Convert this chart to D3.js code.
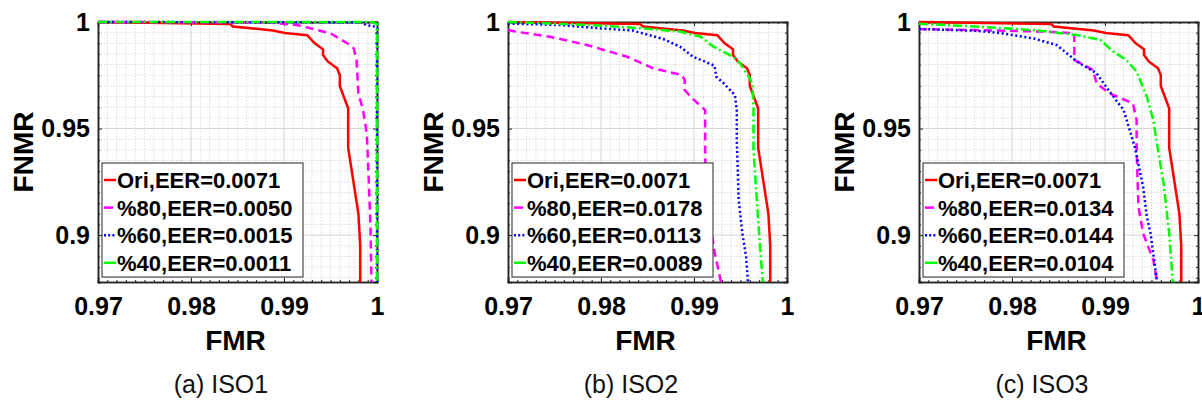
<!DOCTYPE html>
<html>
<head>
<meta charset="utf-8">
<script src="https://cdn.jsdelivr.net/npm/d3@7/dist/d3.min.js"></script>
<style>
  body { margin: 0; background: #fff; }
  svg { display: block; }
  text { font-family: "Liberation Sans", Arial, Helvetica, sans-serif; }
</style>
</head>
<body>
<div id="chart"></div>
<script>
// ROC-style curves (FNMR vs FMR), three panels
const captions = ['(a) ISO1', '(b) ISO2', '(c) ISO3'];
const seriesNames = ['Ori', '%80', '%60', '%40'];
const eerValues = [
    ['0.0071', '0.0050', '0.0015', '0.0011'],
    ['0.0071', '0.0178', '0.0113', '0.0089'],
    ['0.0071', '0.0134', '0.0144', '0.0104']
];
const xTicks = [0.97, 0.98, 0.99, 1];
const yTicks = [0.9, 0.95, 1];

// [FMR, FNMR] points
const oriCurve = [[0.970, 1.000], [0.9842, 0.9991], [0.9845, 0.9979], [0.9888, 0.9960], [0.9901, 0.9948],
    [0.9925, 0.9938], [0.9933, 0.9900], [0.9942, 0.9872], [0.9942, 0.9845], [0.9947, 0.9815], [0.9957, 0.9783],
    [0.9960, 0.9751], [0.9960, 0.9700], [0.9969, 0.9595], [0.9969, 0.9410], [0.9980, 0.9100], [0.9982, 0.8950],
    [0.9982, 0.878]];

const iso1P80 = [[0.970, 1.000], [0.9880, 0.9998], [0.9899, 0.9992], [0.9914, 0.9986], [0.9950, 0.9947],
    [0.9971, 0.9892], [0.9975, 0.9876], [0.9978, 0.9822], [0.9980, 0.9665], [0.9985, 0.9587], [0.9989, 0.9478],
    [0.9991, 0.9274], [0.9993, 0.9039], [0.9994, 0.878]];
const iso1P60 = [[0.970, 1.000], [0.9985, 0.9998], [0.9988, 0.9986], [0.9998, 0.9978], [1.000, 0.9970], [1.000, 0.878]];
const iso1P40 = [[0.970, 1.000], [0.9995, 1.000], [1.000, 0.9990], [1.000, 0.878]];

const iso2P80 = [[0.970, 0.9962], [0.9708, 0.9955], [0.9745, 0.9931], [0.9785, 0.9892], [0.9828, 0.9837],
    [0.9856, 0.9783], [0.9887, 0.9751], [0.9890, 0.9728], [0.9890, 0.9681], [0.9898, 0.9642], [0.9912, 0.9587],
    [0.9912, 0.9370], [0.9914, 0.9150], [0.9922, 0.8923], [0.9929, 0.878]];
const iso2P60 = [[0.970, 0.9993], [0.9755, 0.9986], [0.9800, 0.9970], [0.9834, 0.9960], [0.9867, 0.9920],
    [0.9885, 0.9884], [0.9899, 0.9837], [0.9922, 0.9795], [0.9924, 0.9743], [0.9932, 0.9712], [0.9944, 0.9657],
    [0.9946, 0.9587], [0.9946, 0.9440], [0.9947, 0.9320], [0.9948, 0.9165], [0.9952, 0.9008], [0.9956, 0.8900],
    [0.9958, 0.878]];
const iso2P40 = [[0.970, 1.000], [0.9788, 0.9986], [0.9846, 0.9970], [0.9885, 0.9955], [0.9907, 0.9931],
    [0.9921, 0.9884], [0.9942, 0.9837], [0.9949, 0.9810], [0.9960, 0.9736], [0.9963, 0.9704], [0.9964, 0.9587],
    [0.9964, 0.9400], [0.9967, 0.9200], [0.9970, 0.9008], [0.9974, 0.878]];

const iso3P80 = [[0.970, 0.9967], [0.9780, 0.9960], [0.9836, 0.9955], [0.9867, 0.9947], [0.9867, 0.9822],
    [0.9887, 0.9775], [0.9891, 0.9712], [0.9905, 0.9665], [0.9930, 0.9618], [0.9934, 0.9540], [0.9934, 0.9399],
    [0.9936, 0.9133], [0.9941, 0.9008], [0.9952, 0.8883], [0.9956, 0.878]];
const iso3P60 = [[0.970, 0.9967], [0.9762, 0.9959], [0.9788, 0.9948], [0.9823, 0.9923], [0.9848, 0.9892],
    [0.9870, 0.9814], [0.9891, 0.9759], [0.9905, 0.9673], [0.9920, 0.9587], [0.9932, 0.9415], [0.9941, 0.9227],
    [0.9945, 0.9086], [0.9949, 0.9008], [0.9956, 0.878]];
const iso3P40 = [[0.970, 0.9992], [0.9751, 0.9981], [0.9823, 0.9962], [0.9870, 0.9939], [0.9895, 0.9916],
    [0.9909, 0.9861], [0.9923, 0.9822], [0.9934, 0.9767], [0.9945, 0.9649], [0.9952, 0.9540], [0.9957, 0.9400],
    [0.9963, 0.9243], [0.9969, 0.9008], [0.9973, 0.878]];

const panelSeries = [
    [oriCurve, iso1P80, iso1P60, iso1P40],
    [oriCurve, iso2P80, iso2P60, iso2P40],
    [oriCurve, iso3P80, iso3P60, iso3P40]
];

// line styles per series
const colors = ['#ff0000', '#ff00ff', '#0000ff', '#00ff00'];
const dashes = [null, '8,5', '2,2.6', '9,3,2,3'];

const W = 1202, H = 401;
const plotLefts = [98, 508, 919];
const plotW = 279, plotTop = 22, plotBottom = 282;
const axisColor = '#262626';

const svg = d3.select('#chart').append('svg')
    .attr('width', W)
    .attr('height', H);
svg.append('rect').attr('width', W).attr('height', H).attr('fill', '#fff');

const x = d3.scaleLinear().domain([0.97, 1]).range([0, plotW]);
const y = d3.scaleLinear().domain([0.878, 1]).range([plotBottom - plotTop, 0]);
const innerH = plotBottom - plotTop;

const xMinor = d3.range(971, 1000).map(d => d / 1000).filter(d => !xTicks.some(t => Math.abs(t - d) < 1e-9));
const yMinor = d3.range(880, 1000, 5).map(d => d / 1000).filter(d => !yTicks.some(t => Math.abs(t - d) < 1e-9));

const line = d3.line().x(d => x(d[0])).y(d => y(d[1]));

panelSeries.forEach((series, p) => {
    const g = svg.append('g').attr('transform', `translate(${plotLefts[p]},${plotTop})`);

    // minor grid (dotted)
    g.append('g').selectAll('line.vm').data(xMinor).join('line')
        .attr('x1', d => x(d)).attr('x2', d => x(d)).attr('y1', 0).attr('y2', innerH)
        .attr('stroke', '#dcdcdc').attr('stroke-width', 1).attr('stroke-dasharray', '1.5,1.5');
    g.append('g').selectAll('line.hm').data(yMinor).join('line')
        .attr('x1', 0).attr('x2', plotW).attr('y1', d => y(d)).attr('y2', d => y(d))
        .attr('stroke', '#dcdcdc').attr('stroke-width', 1).attr('stroke-dasharray', '1.5,1.5');

    // major grid
    g.append('g').selectAll('line').data(xTicks).join('line')
        .attr('x1', d => x(d)).attr('x2', d => x(d)).attr('y1', 0).attr('y2', innerH)
        .attr('stroke', '#d6d6d6').attr('stroke-width', 1);
    g.append('g').selectAll('line').data(yTicks).join('line')
        .attr('x1', 0).attr('x2', plotW).attr('y1', d => y(d)).attr('y2', d => y(d))
        .attr('stroke', '#d6d6d6').attr('stroke-width', 1);

    // axes with inward ticks on all four sides
    const fmt = d => String(d);
    const bottom = g.append('g').attr('transform', `translate(0,${innerH})`)
        .call(d3.axisBottom(x).tickValues(xTicks).tickSize(-4).tickPadding(15).tickFormat(fmt));
    const left = g.append('g')
        .call(d3.axisLeft(y).tickValues(yTicks).tickSize(-4).tickPadding(8).tickFormat(fmt));
    g.append('g').call(d3.axisTop(x).tickValues(xTicks).tickSize(-4).tickFormat(''));
    g.append('g').attr('transform', `translate(${plotW},0)`)
        .call(d3.axisRight(y).tickValues(yTicks).tickSize(-4).tickFormat(''));
    g.append('g').attr('transform', `translate(0,${innerH})`)
        .call(d3.axisBottom(x).tickValues(xMinor).tickSize(-2).tickFormat(''));
    g.append('g').call(d3.axisTop(x).tickValues(xMinor).tickSize(-2).tickFormat(''));
    g.append('g').call(d3.axisLeft(y).tickValues(yMinor).tickSize(-2).tickFormat(''));
    g.append('g').attr('transform', `translate(${plotW},0)`)
        .call(d3.axisRight(y).tickValues(yMinor).tickSize(-2).tickFormat(''));

    g.selectAll('.domain').attr('stroke', axisColor).attr('stroke-width', 1.5);
    g.selectAll('.tick line').attr('stroke', axisColor);
    g.selectAll('.tick text')
        .attr('font-size', 25).attr('font-weight', 'bold').attr('fill', '#000')
        .attr('font-family', '"Liberation Sans", Arial, sans-serif');

    // curves
    const clipId = `clip${p}`;
    g.append('clipPath').attr('id', clipId).append('rect')
        .attr('x', -2).attr('y', -2).attr('width', plotW + 4).attr('height', innerH + 2);
    const curves = g.append('g').attr('clip-path', `url(#${clipId})`);
    series.forEach((pts, i) => {
        curves.append('path')
            .datum(pts)
            .attr('d', line)
            .attr('fill', 'none')
            .attr('stroke', colors[i])
            .attr('stroke-width', 2.5)
            .attr('stroke-dasharray', dashes[i]);
    });

    // legend
    const lg = g.append('g').attr('transform', 'translate(4,141)');
    lg.append('rect').attr('width', 201).attr('height', 114)
        .attr('fill', '#fff').attr('stroke', axisColor).attr('stroke-width', 1);
    seriesNames.forEach((name, i) => {
        const cy = 17 + i * 27.6;
        lg.append('line')
            .attr('x1', 2).attr('x2', 14).attr('y1', cy).attr('y2', cy)
            .attr('stroke', colors[i]).attr('stroke-width', 2.5)
            .attr('stroke-dasharray', i === 1 ? '9,3' : i === 2 ? '2,2.2' : null);
        lg.append('text')
            .attr('x', 15).attr('y', cy).attr('dy', '0.36em')
            .attr('font-size', 22).attr('font-weight', 'bold')
            .text(`${name},EER=${eerValues[p][i]}`);
    });

    // axis titles
    g.append('text')
        .attr('x', plotW / 2 - 2).attr('y', innerH + 68)
        .attr('text-anchor', 'middle').attr('font-size', 28).attr('font-weight', 'bold')
        .text('FMR');
    g.append('text')
        .attr('transform', `translate(-65,${innerH / 2}) rotate(-90)`)
        .attr('text-anchor', 'middle').attr('font-size', 28).attr('font-weight', 'bold')
        .text('FNMR');

    // sub-caption
    svg.append('text')
        .attr('x', plotLefts[p] + 123).attr('y', 393)
        .attr('text-anchor', 'middle').attr('font-size', 25)
        .attr('fill', '#111')
        .text(captions[p]);
});
</script>
</body>
</html>
